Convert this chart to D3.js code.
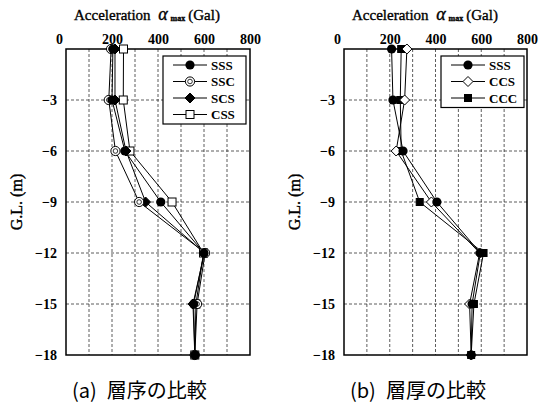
<!DOCTYPE html>
<html>
<head>
<meta charset="utf-8">
<script src="https://cdn.jsdelivr.net/npm/d3@7"></script>
<style>
  body { margin: 0; background: #fff; }
  svg { display: block; }
  text { font-family: "Liberation Serif", "DejaVu Serif", serif; }
</style>
</head>
<body>
<svg id="chart"></svg>
<script>
const width = 552, height = 406;

// depths (m) and tick labels
const depths = [0, -3, -6, -9, -12, -15, -18];
const xTicks = [0, 200, 400, 600, 800];
const yTicks = [-3, -6, -9, -12, -15, -18];

// (a) layer order comparison, max acceleration (Gal)
const sssA = [204, 200, 256, 412, 600, 555, 560];
const sscA = [196, 186, 215, 318, 605, 570, 560];
const scsA = [213, 213, 261, 346, 602, 552, 560];
const cssA = [250, 249, 278, 461, 598, 565, 560];

// (b) layer thickness comparison
const sssB = [208, 214, 258, 406, 596, 560, 556];
const ccsB = [275, 265, 228, 382, 593, 549, 556];
const cccB = [250, 246, 250, 331, 610, 568, 556];

const captions = ["(a)\u2002層序の比較", "(b)\u2002層厚の比較"];

const svg = d3.select("#chart").attr("width", width).attr("height", height);

// marker drawers
function marker(g, type, x, y) {
    if (type === "circle") {
        g.append("circle").attr("cx", x).attr("cy", y).attr("r", 4.6).attr("fill", "#000");
    } else if (type === "dcircle") {
        g.append("circle").attr("cx", x).attr("cy", y).attr("r", 4.6)
            .attr("fill", "#fff").attr("stroke", "#000").attr("stroke-width", 1);
        g.append("circle").attr("cx", x).attr("cy", y).attr("r", 2.3)
            .attr("fill", "none").attr("stroke", "#000").attr("stroke-width", 0.8);
    } else if (type === "fdiamond" || type === "odiamond") {
        g.append("path")
            .attr("d", `M${x},${y - 5}L${x + 5},${y}L${x},${y + 5}L${x - 5},${y}Z`)
            .attr("fill", type === "fdiamond" ? "#000" : "#fff")
            .attr("stroke", "#000").attr("stroke-width", 1);
    } else if (type === "osquare" || type === "fsquare") {
        const s = type === "fsquare" ? 7 : 8;
        g.append("rect").attr("x", x - s / 2).attr("y", y - s / 2).attr("width", s).attr("height", s)
            .attr("fill", type === "fsquare" ? "#000" : "#fff")
            .attr("stroke", "#000").attr("stroke-width", 1);
    }
}

function drawPanel(cfg) {
    const x = d3.scaleLinear().domain([0, 800]).range([cfg.x0, cfg.x1]);
    const y = d3.scaleLinear().domain([0, -18]).range([49, 355]);
    const g = svg.append("g");

    // grid
    g.selectAll(".vg").data(d3.range(100, 800, 100)).enter().append("line")
        .attr("x1", d => x(d)).attr("x2", d => x(d))
        .attr("y1", y(0)).attr("y2", y(-18))
        .attr("stroke", "#333").attr("stroke-width", 0.8).attr("stroke-dasharray", "3,2");
    g.selectAll(".hg").data([-3, -6, -9, -12, -15]).enter().append("line")
        .attr("x1", x(0)).attr("x2", x(800))
        .attr("y1", d => y(d)).attr("y2", d => y(d))
        .attr("stroke", "#333").attr("stroke-width", 0.8).attr("stroke-dasharray", "3,2");

    // frame
    g.append("rect").attr("x", x(0)).attr("y", y(0))
        .attr("width", x(800) - x(0)).attr("height", y(-18) - y(0))
        .attr("fill", "none").attr("stroke", "#000").attr("stroke-width", 1.5);

    // axes
    const ax = g.append("g").attr("transform", `translate(0,${y(0)})`)
        .call(d3.axisTop(x).tickValues(xTicks).tickSize(0).tickPadding(5));
    ax.select(".domain").remove();
    ax.attr("font-family", null).attr("font-size", null);
    ax.selectAll("text").attr("font-size", 14).attr("font-weight", "bold")
        .attr("fill", "#000").attr("dx", d => d === 0 ? -7 : 0);

    const ay = g.append("g").attr("transform", `translate(${x(0)},0)`)
        .call(d3.axisLeft(y).tickValues(yTicks).tickSize(0).tickPadding(9));
    ay.select(".domain").remove();
    ay.attr("font-family", null).attr("font-size", null);
    ay.selectAll("text").attr("font-size", 14).attr("font-weight", "bold")
        .attr("fill", "#000");

    // axis titles
    const t = g.append("text").attr("x", x(0) + 8).attr("y", 20)
        .attr("font-size", 15).attr("fill", "#000")
        .attr("stroke", "#000").attr("stroke-width", 0.35);
    t.append("tspan").text("Acceleration\u2002");
    t.append("tspan").attr("font-style", "italic").attr("font-size", 18).text("α");
    t.append("tspan").attr("font-size", 8).attr("font-weight", "bold").attr("dx", 3).attr("dy", 1).text("max");
    t.append("tspan").attr("dy", -1).attr("dx", 3).text("(Gal)");

    g.append("text")
        .attr("transform", `translate(${cfg.x0 - 44},202) rotate(-90)`)
        .attr("text-anchor", "middle")
        .attr("font-size", 16)
        .attr("fill", "#000").attr("stroke", "#000").attr("stroke-width", 0.4)
        .text("G.L. (m)");

    // series
    const line = d3.line().x(d => x(d[0])).y(d => y(d[1]));
    cfg.series.slice().reverse().forEach(s => {
        const pts = s.values.map((v, i) => [v, depths[i]]);
        g.append("path").datum(pts).attr("d", line)
            .attr("fill", "none").attr("stroke", "#000").attr("stroke-width", 1);
    });
    cfg.series.slice().reverse().forEach(s => {
        s.values.forEach((v, i) => marker(g, s.type, x(v), y(depths[i])));
    });

    // legend
    const lx = x(0) + 97, ly = 56;
    const lh = cfg.series.length * 16.5 + 2;
    g.append("rect").attr("x", lx).attr("y", ly).attr("width", 83).attr("height", lh)
        .attr("fill", "#fff").attr("stroke", "#000").attr("stroke-width", 1.2);
    cfg.series.forEach((s, i) => {
        const yy = ly + 9 + i * 16.5;
        g.append("line").attr("x1", lx + 10).attr("x2", lx + 44).attr("y1", yy).attr("y2", yy)
            .attr("stroke", "#000").attr("stroke-width", 1);
        marker(g, s.type, lx + 27, yy);
        g.append("text").attr("x", lx + 48).attr("y", yy + 4.5)
            .attr("font-size", 13).attr("font-weight", "bold")
            .attr("fill", "#000").text(s.name);
    });

    // caption
    svg.append("text").attr("x", cfg.capX).attr("y", 398)
        .style("font-family", "'Noto Sans CJK JP', sans-serif").attr("font-size", 20)
        .attr("fill", "#000").text(cfg.caption);
}

drawPanel({
    x0: 66, x1: 250, capX: 72, caption: captions[0],
    series: [
        {name: "SSS", type: "circle", values: sssA},
        {name: "SSC", type: "dcircle", values: sscA},
        {name: "SCS", type: "fdiamond", values: scsA},
        {name: "CSS", type: "osquare", values: cssA}
    ]
});

drawPanel({
    x0: 344, x1: 527, capX: 350, caption: captions[1],
    series: [
        {name: "SSS", type: "circle", values: sssB},
        {name: "CCS", type: "odiamond", values: ccsB},
        {name: "CCC", type: "fsquare", values: cccB}
    ]
});
</script>
</body>
</html>
